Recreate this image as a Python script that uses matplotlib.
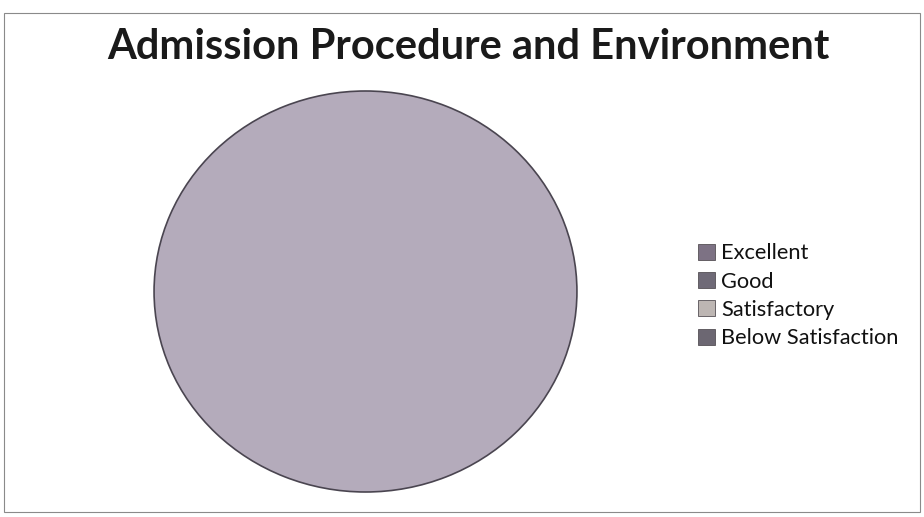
import matplotlib.pyplot as plt
from matplotlib.patches import Rectangle, Patch

plt.rcParams["font.family"] = ["Lato", "DejaVu Sans"]

title = "Admission Procedure and Environment"
categories = ["Excellent", "Good", "Satisfactory", "Below Satisfaction"]
# no slice boundaries are visible in the scan: the whole pie is one segment
values = [100, 0, 0, 0]
pie_color = "#b4abbb"
legend_colors = ["#7d7284", "#6f6a77", "#bdb6b3", "#6c6772"]

fig = plt.figure(figsize=(9.24, 5.17), dpi=100)
fig.patch.set_facecolor("white")

# chart area border
fig.add_artist(Rectangle((0.004, 0.01), 0.992, 0.965, transform=fig.transFigure,
                         fill=False, edgecolor="#8a8a8a", linewidth=0.8))

fig.text(0.507, 0.91, title, ha="center", va="center", fontsize=30,
         fontweight="bold", color="#1a1a1a")

# scanned pie is slightly wider than tall: 425 x 403 px
ax = fig.add_axes([153 / 924, 1 - 493 / 517, 425 / 924, 403 / 517])
wedges, _ = ax.pie(values, colors=[pie_color] * len(values), radius=1,
                   startangle=90, counterclock=False,
                   wedgeprops={"linewidth": 0})
wedges[0].set_edgecolor("#4a4550")
wedges[0].set_linewidth(1.2)
ax.set_xlim(-1.005, 1.005)
ax.set_ylim(-1.005, 1.005)
ax.set_aspect("auto")

handles = [Patch(facecolor=c, edgecolor="#555055", linewidth=0.6) for c in legend_colors]
fig.legend(handles, categories, loc="center left", bbox_to_anchor=(0.744, 0.428),
           frameon=False, fontsize=15.7, handlelength=0.75, handleheight=0.75,
           handletextpad=0.3, labelspacing=0.38, borderpad=0, labelcolor="#111111")

fig.savefig("out.png", dpi=100)
